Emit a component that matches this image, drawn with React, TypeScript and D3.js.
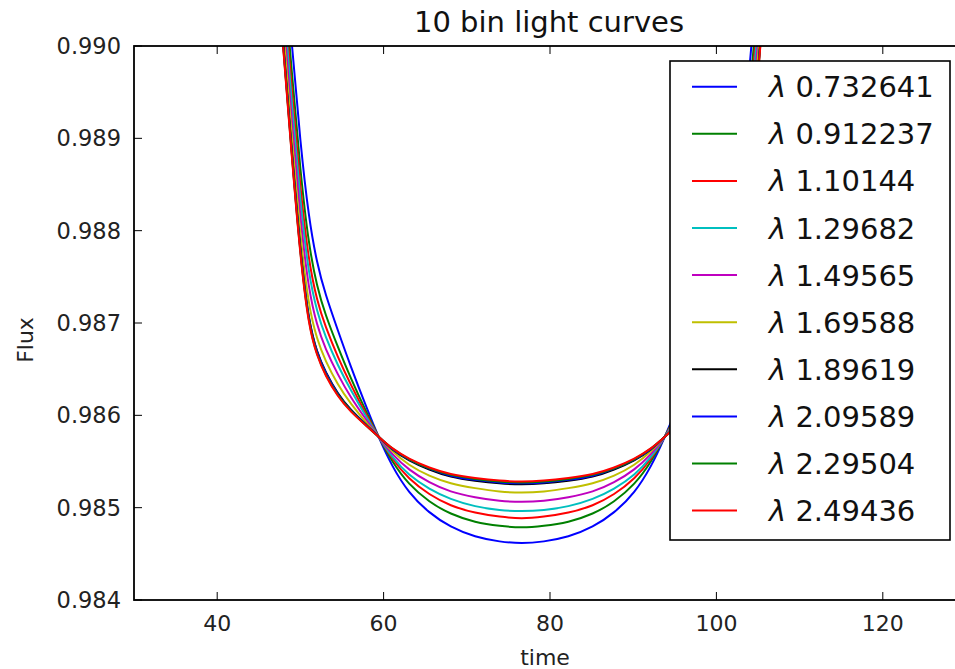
import React from "react";
import * as d3 from "d3";

// time grid shared by all curves
const TIME = [47.4, 48, 49, 50, 51, 52, 53, 54.5, 56, 58, 59.5, 61, 63, 65.5, 68, 71, 74, 76.6, 79.2, 82.2, 85.2, 87.7, 90.2, 92.2, 93.7, 95.2, 97.2, 98.7, 100.2, 101.2, 102.2, 103.2, 104.2, 105.2, 105.8];

const FLUX_0732641 = [0.99174, 0.99107, 0.98999, 0.98894, 0.98814, 0.98764, 0.98731, 0.98692, 0.98654, 0.98607, 0.98574, 0.98545, 0.98516, 0.98494, 0.98479, 0.98468, 0.98463, 0.98461, 0.98463, 0.98468, 0.98479, 0.98494, 0.98516, 0.98545, 0.98574, 0.98607, 0.98654, 0.98692, 0.98731, 0.98764, 0.98814, 0.98894, 0.98999, 0.99107, 0.99174];
const FLUX_0912237 = [0.99145, 0.99077, 0.98968, 0.98863, 0.98784, 0.98739, 0.98709, 0.98674, 0.98641, 0.98602, 0.98575, 0.98550, 0.98525, 0.98506, 0.98493, 0.98484, 0.98480, 0.98478, 0.98480, 0.98484, 0.98493, 0.98506, 0.98525, 0.98550, 0.98575, 0.98602, 0.98641, 0.98674, 0.98709, 0.98739, 0.98784, 0.98863, 0.98968, 0.99077, 0.99145];
const FLUX_110144 = [0.99128, 0.99060, 0.98949, 0.98844, 0.98766, 0.98724, 0.98696, 0.98663, 0.98634, 0.98599, 0.98575, 0.98553, 0.98531, 0.98514, 0.98502, 0.98494, 0.98490, 0.98488, 0.98490, 0.98494, 0.98502, 0.98514, 0.98531, 0.98553, 0.98575, 0.98599, 0.98634, 0.98663, 0.98696, 0.98724, 0.98766, 0.98844, 0.98949, 0.99060, 0.99128];
const FLUX_129682 = [0.99114, 0.99046, 0.98935, 0.98829, 0.98752, 0.98712, 0.98685, 0.98654, 0.98628, 0.98597, 0.98575, 0.98555, 0.98535, 0.98520, 0.98509, 0.98501, 0.98497, 0.98496, 0.98497, 0.98501, 0.98509, 0.98520, 0.98535, 0.98555, 0.98575, 0.98597, 0.98628, 0.98654, 0.98685, 0.98712, 0.98752, 0.98829, 0.98935, 0.99046, 0.99114];
const FLUX_149565 = [0.99097, 0.99028, 0.98916, 0.98811, 0.98735, 0.98697, 0.98672, 0.98644, 0.98620, 0.98594, 0.98575, 0.98558, 0.98541, 0.98527, 0.98517, 0.98511, 0.98507, 0.98506, 0.98507, 0.98511, 0.98517, 0.98527, 0.98541, 0.98558, 0.98575, 0.98594, 0.98620, 0.98644, 0.98672, 0.98697, 0.98735, 0.98811, 0.98916, 0.99028, 0.99097];
const FLUX_169588 = [0.99080, 0.99011, 0.98898, 0.98792, 0.98717, 0.98682, 0.98659, 0.98633, 0.98613, 0.98591, 0.98576, 0.98561, 0.98546, 0.98534, 0.98526, 0.98521, 0.98517, 0.98516, 0.98517, 0.98521, 0.98526, 0.98534, 0.98546, 0.98561, 0.98576, 0.98591, 0.98613, 0.98633, 0.98659, 0.98682, 0.98717, 0.98792, 0.98898, 0.99011, 0.99080];
const FLUX_189619 = [0.99065, 0.98995, 0.98882, 0.98776, 0.98701, 0.98668, 0.98647, 0.98623, 0.98606, 0.98589, 0.98576, 0.98563, 0.98551, 0.98541, 0.98533, 0.98529, 0.98526, 0.98525, 0.98526, 0.98529, 0.98533, 0.98541, 0.98551, 0.98563, 0.98576, 0.98589, 0.98606, 0.98623, 0.98647, 0.98668, 0.98701, 0.98776, 0.98882, 0.98995, 0.99065];
const FLUX_209589 = [0.99063, 0.98994, 0.98880, 0.98774, 0.98700, 0.98667, 0.98646, 0.98622, 0.98605, 0.98589, 0.98576, 0.98563, 0.98552, 0.98542, 0.98534, 0.98530, 0.98527, 0.98526, 0.98527, 0.98530, 0.98534, 0.98542, 0.98552, 0.98563, 0.98576, 0.98589, 0.98605, 0.98622, 0.98646, 0.98667, 0.98700, 0.98774, 0.98880, 0.98994, 0.99063];
const FLUX_229504 = [0.99062, 0.98992, 0.98878, 0.98772, 0.98698, 0.98665, 0.98644, 0.98621, 0.98605, 0.98588, 0.98576, 0.98564, 0.98552, 0.98542, 0.98535, 0.98531, 0.98528, 0.98527, 0.98528, 0.98531, 0.98535, 0.98542, 0.98552, 0.98564, 0.98576, 0.98588, 0.98605, 0.98621, 0.98644, 0.98665, 0.98698, 0.98772, 0.98878, 0.98992, 0.99062];
const FLUX_249436 = [0.99060, 0.98990, 0.98876, 0.98770, 0.98696, 0.98664, 0.98643, 0.98620, 0.98604, 0.98588, 0.98576, 0.98564, 0.98553, 0.98543, 0.98536, 0.98532, 0.98529, 0.98528, 0.98529, 0.98532, 0.98536, 0.98543, 0.98553, 0.98564, 0.98576, 0.98588, 0.98604, 0.98620, 0.98643, 0.98664, 0.98696, 0.98770, 0.98876, 0.98990, 0.99060];

const LABELS = ["0.732641", "0.912237", "1.10144", "1.29682", "1.49565", "1.69588", "1.89619", "2.09589", "2.29504", "2.49436"];
const COLORS = ["#0000ff", "#008000", "#ff0000", "#00bfbf", "#bf00bf", "#bfbf00", "#000000", "#0000ff", "#008000", "#ff0000"];
const SERIES_FLUX = [FLUX_0732641, FLUX_0912237, FLUX_110144, FLUX_129682, FLUX_149565, FLUX_169588, FLUX_189619, FLUX_209589, FLUX_229504, FLUX_249436];

const X_TICKS = [40, 60, 80, 100, 120];
const Y_TICKS = [0.984, 0.985, 0.986, 0.987, 0.988, 0.989, 0.99];

const W = 955;
const H = 669;
const L = 134, R = 966, T = 46, B = 600;
const FONT = "DejaVu Sans, sans-serif";

export default function App() {
  const x = d3.scaleLinear().domain([30, 130]).range([L, R]);
  const y = d3.scaleLinear().domain([0.984, 0.99]).range([B, T]);
  const line = d3
    .line<number>()
    .x((_, i) => x(TIME[i]))
    .y((d) => y(d))
    .curve(d3.curveBasis);

  const legX = 670, legY = 61, legW = 280, legH = 479;
  const rowY0 = 86.7, rowDy = 47.1;

  return (
    <svg
      width={W}
      height={H}
      style={{ position: "absolute", left: 0, top: 0, background: "#fff" }}
      fontFamily={FONT}
    >
      <defs>
        <clipPath id="plotclip">
          <rect x={L} y={T} width={R - L} height={B - T} />
        </clipPath>
      </defs>
      <rect x={0} y={0} width={W} height={H} fill="#fff" />
      <g clipPath="url(#plotclip)">
        {SERIES_FLUX.map((s, i) => (
          <path key={i} d={line(s) || ""} fill="none" stroke={COLORS[i]} strokeWidth={2} />
        ))}
      </g>
      {/* frame */}
      <rect x={L} y={T} width={R - L} height={B - T} fill="none" stroke="#000" strokeWidth={1.8} />
      {/* x ticks */}
      {X_TICKS.map((t) => (
        <g key={"x" + t}>
          <line x1={x(t)} x2={x(t)} y1={B} y2={B - 8} stroke="#000" strokeWidth={1} />
          <line x1={x(t)} x2={x(t)} y1={T} y2={T + 8} stroke="#000" strokeWidth={1} />
          <text x={x(t)} y={631} textAnchor="middle" fontSize={22} fill="#222">
            {d3.format("d")(t)}
          </text>
        </g>
      ))}
      {/* y ticks */}
      {Y_TICKS.map((t) => (
        <g key={"y" + t}>
          <line x1={L} x2={L + 8} y1={y(t)} y2={y(t)} stroke="#000" strokeWidth={1} />
          <text x={121} y={y(t) + 8} textAnchor="end" fontSize={22.5} fill="#222">
            {d3.format(".3f")(t)}
          </text>
        </g>
      ))}
      {/* labels */}
      <text x={549} y={32} textAnchor="middle" fontSize={29} fill="#111">
        10 bin light curves
      </text>
      <text x={545} y={665} textAnchor="middle" fontSize={22} fill="#222">
        time
      </text>
      <text
        transform={`translate(33,340) rotate(-90)`}
        textAnchor="middle"
        fontSize={22}
        fill="#222"
      >
        Flux
      </text>
      {/* legend */}
      <rect x={legX} y={legY} width={legW} height={legH} fill="#fff" stroke="#000" strokeWidth={1.6} />
      {LABELS.map((lab, i) => {
        const ry = rowY0 + rowDy * i;
        return (
          <g key={"l" + i}>
            <line x1={692} x2={737} y1={ry} y2={ry} stroke={COLORS[i]} strokeWidth={2} />
            <text x={769} y={ry + 10.5} fontSize={29} fill="#111">
              <tspan fontStyle="italic">λ</tspan>
              {" " + lab}
            </text>
          </g>
        );
      })}
    </svg>
  );
}
